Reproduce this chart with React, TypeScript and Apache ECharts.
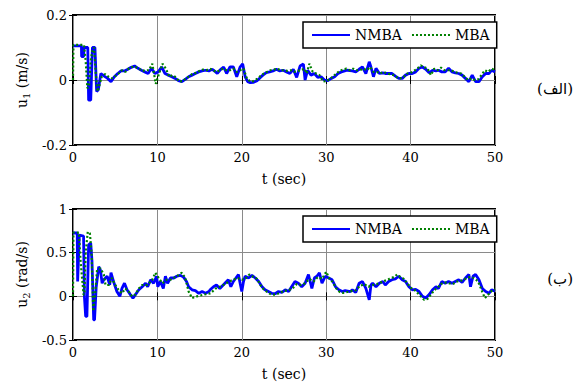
import React, { useEffect, useRef } from "react";
import * as echarts from "echarts";

// u1 (m/s) — NMBA
const T_U1_NMBA = [0, 1.0, 1.02, 1.25, 1.3, 1.75, 1.85, 2.1, 2.3, 2.6, 2.8, 3.0, 3.3, 3.7, 4.1, 4.5, 4.9, 5.3, 5.7, 6.1, 6.5, 6.9, 7.3, 7.7, 8.1, 8.5, 8.9, 9.3, 9.7, 10.1, 10.5, 10.9, 11.3, 11.7, 12.1, 12.5, 12.9, 13.3, 13.7, 14.1, 14.5, 14.9, 15.3, 15.7, 16.1, 16.5, 16.9, 17.1, 17.5, 17.85, 18.2, 18.6, 19.0, 19.4, 19.8, 20.1, 20.4, 20.7, 21.0, 21.4, 21.8, 22.2, 22.5, 22.9, 23.3, 23.7, 24.1, 24.5, 24.9, 25.3, 25.7, 26.1, 26.5, 26.9, 27.3, 27.5, 27.8, 28.2, 28.6, 29.0, 29.4, 29.8, 30.2, 30.6, 31.0, 31.4, 31.8, 32.2, 32.5, 33.1, 33.5, 33.9, 34.3, 34.7, 35.1, 35.3, 35.6, 35.9, 36.3, 36.7, 37.0, 37.4, 37.8, 38.2, 38.6, 39.0, 39.4, 39.8, 40.2, 40.6, 41.0, 41.4, 41.8, 42.2, 42.6, 43.0, 43.3, 43.7, 44.1, 44.5, 44.9, 45.3, 45.7, 46.1, 46.5, 46.9, 47.3, 47.7, 48.1, 48.5, 48.9, 49.3, 49.6, 50];
const U1_NMBA = [0.105, 0.105, 0.072, 0.072, 0.1, 0.1, -0.062, -0.062, 0.1, 0.1, -0.035, -0.03, 0.02, 0.012, 0.005, -0.005, 0.01, 0.02, 0.028, 0.028, 0.033, 0.039, 0.043, 0.036, 0.03, 0.025, 0.02, 0.036, 0.02, 0.025, 0.04, 0.02, 0.015, 0.01, 0.005, -0.002, -0.005, 0.002, 0.01, 0.015, 0.02, 0.025, 0.028, 0.03, 0.028, 0.033, 0.025, 0.02, 0.033, 0.04, 0.02, 0.04, 0.04, 0.01, 0.04, 0.05, 0.01, -0.005, -0.008, -0.007, -0.002, 0.008, 0.015, 0.023, 0.025, 0.028, 0.033, 0.028, 0.03, 0.025, 0.02, 0.033, 0.008, 0.043, 0.049, 0.0, 0.03, 0.015, 0.02, 0.008, 0.01, 0.0, -0.002, 0.005, 0.01, 0.02, 0.025, 0.028, 0.03, 0.028, 0.025, 0.033, 0.04, 0.02, 0.056, 0.04, 0.01, 0.036, 0.02, 0.022, 0.02, 0.02, 0.02, 0.012, 0.005, 0.005, 0.015, 0.02, 0.02, 0.025, 0.036, 0.04, 0.033, 0.022, 0.03, 0.028, 0.03, 0.025, 0.025, 0.036, 0.025, 0.022, 0.02, 0.015, 0.005, -0.005, 0.015, -0.005, -0.005, 0.01, 0.02, 0.02, 0.03, 0.025];

// u1 (m/s) — MBA
const T_U1_MBA = [0, 0.05, 1.3, 1.5, 1.7, 1.9, 2.1, 2.3, 2.5, 2.7, 2.9, 3.1, 3.4, 3.8, 4.2, 4.6, 5.0, 5.4, 5.8, 6.2, 6.6, 7.0, 7.4, 7.8, 8.2, 8.6, 9.0, 9.4, 9.8, 10.2, 10.6, 11.0, 11.4, 11.8, 12.2, 12.6, 13.0, 13.4, 13.8, 14.2, 14.6, 15.0, 15.4, 15.8, 16.2, 16.6, 17.0, 17.4, 17.8, 18.2, 18.6, 19.0, 19.4, 19.8, 20.2, 20.6, 21.0, 21.4, 21.8, 22.2, 22.6, 23.0, 23.4, 23.8, 24.2, 24.6, 25.0, 25.4, 25.8, 26.2, 26.6, 27.0, 27.4, 27.7, 28.0, 28.4, 28.8, 29.2, 29.6, 30.0, 30.4, 30.8, 31.2, 31.6, 32.0, 32.4, 32.8, 33.2, 33.6, 34.0, 34.4, 34.8, 35.2, 35.6, 36.0, 36.4, 36.8, 37.2, 37.6, 38.0, 38.4, 38.8, 39.2, 39.6, 40.0, 40.4, 40.8, 41.2, 41.6, 42.0, 42.4, 42.8, 43.2, 43.6, 44.0, 44.4, 44.8, 45.2, 45.6, 46.0, 46.4, 46.8, 47.2, 47.6, 48.0, 48.4, 48.8, 49.2, 49.6, 50];
const U1_MBA = [0, 0.108, 0.108, 0.06, -0.025, -0.02, 0.06, 0.09, 0.1, 0.02, -0.035, -0.02, 0.01, 0.018, 0.01, 0.005, 0.012, 0.02, 0.03, 0.025, 0.035, 0.04, 0.04, 0.035, 0.028, 0.03, 0.03, 0.05, -0.012, 0.02, 0.05, 0.035, 0.01, 0.015, 0.008, -0.005, -0.003, 0.005, 0.012, 0.02, 0.022, 0.028, 0.032, 0.03, 0.035, 0.03, 0.025, 0.03, 0.035, 0.03, 0.03, 0.035, 0.025, 0.03, 0.035, 0.005, -0.005, -0.003, 0.003, 0.012, 0.02, 0.025, 0.03, 0.032, 0.035, 0.03, 0.03, 0.028, 0.03, 0.025, 0.028, 0.03, 0.035, 0.02, 0.05, 0.025, 0.02, 0.015, -0.003, -0.005, 0.003, 0.01, 0.02, 0.028, 0.032, 0.035, 0.03, 0.035, 0.03, 0.03, 0.035, 0.03, 0.04, 0.025, 0.025, 0.02, 0.025, 0.02, 0.018, 0.015, 0.008, 0.005, 0.01, 0.02, 0.022, 0.028, 0.035, 0.045, 0.04, 0.035, 0.015, 0.035, 0.03, 0.038, 0.03, 0.03, 0.03, 0.025, 0.022, 0.02, 0.01, 0.0, 0.005, 0.0, 0.002, 0.015, 0.03, 0.025, 0.035, 0.03];

// u2 (rad/s) — NMBA
const T_U2_NMBA = [0, 0.5, 0.55, 0.75, 1.25, 1.35, 1.5, 1.65, 1.85, 2.1, 2.25, 2.45, 2.55, 2.75, 3.05, 3.25, 3.45, 3.65, 4.05, 4.35, 4.5, 4.8, 5.2, 5.55, 5.8, 6.1, 6.4, 6.8, 7.1, 7.4, 7.8, 8.2, 8.6, 8.85, 9.2, 9.55, 9.9, 10.05, 10.35, 10.7, 10.95, 11.2, 11.55, 11.95, 12.3, 12.7, 13.1, 13.45, 13.7, 14.1, 14.5, 14.9, 15.3, 15.7, 16.1, 16.25, 16.65, 17.0, 17.4, 18.0, 18.4, 18.7, 19.0, 19.3, 19.6, 19.8, 20.0, 20.2, 20.4, 20.8, 21.2, 21.6, 22.0, 22.4, 22.75, 23.15, 23.55, 23.95, 24.35, 24.75, 25.15, 25.55, 25.9, 26.3, 26.7, 27.1, 27.5, 27.9, 28.1, 28.3, 28.6, 28.9, 29.2, 29.5, 29.9, 30.3, 30.7, 31.1, 31.5, 31.9, 32.25, 32.85, 33.1, 33.5, 33.9, 34.3, 34.7, 35.1, 35.3, 35.5, 35.9, 36.3, 36.7, 37.0, 37.4, 37.8, 38.2, 38.6, 39.0, 39.4, 39.8, 40.2, 40.6, 41.0, 41.4, 41.8, 42.2, 42.6, 43.0, 43.3, 43.7, 44.1, 44.5, 44.9, 45.3, 45.7, 46.1, 46.5, 46.9, 47.1, 47.4, 47.7, 48.1, 48.5, 48.9, 49.3, 49.6, 50];
const U2_NMBA = [0.725, 0.725, 0.17, 0.7, 0.69, 0.0, -0.23, -0.23, 0.59, 0.61, 0.4, -0.27, -0.27, 0.11, 0.34, 0.3, 0.15, 0.19, 0.23, 0.13, 0.27, 0.17, 0.055, 0.0, 0.09, 0.15, 0.075, 0.02, -0.02, 0.02, 0.075, 0.11, 0.15, 0.11, 0.19, 0.15, 0.23, 0.11, 0.17, 0.09, 0.23, 0.15, 0.21, 0.21, 0.23, 0.24, 0.22, 0.17, 0.11, 0.075, 0.065, 0.035, 0.055, 0.035, 0.055, 0.075, 0.11, 0.13, 0.09, 0.15, 0.19, 0.11, 0.17, 0.21, 0.25, 0.15, 0.055, 0.17, 0.23, 0.21, 0.24, 0.21, 0.17, 0.11, 0.075, 0.055, 0.035, 0.03, 0.055, 0.045, 0.075, 0.055, 0.11, 0.17, 0.15, 0.11, 0.15, 0.25, 0.17, 0.09, 0.21, 0.23, 0.27, 0.15, 0.23, 0.21, 0.19, 0.11, 0.075, 0.055, 0.065, 0.055, 0.075, 0.045, 0.15, 0.17, 0.09, -0.04, 0.13, 0.15, 0.11, 0.15, 0.17, 0.13, 0.17, 0.19, 0.2, 0.23, 0.19, 0.17, 0.11, 0.075, 0.08, 0.055, 0.0, -0.02, 0.02, 0.075, 0.11, 0.09, 0.17, 0.15, 0.17, 0.15, 0.17, 0.19, 0.16, 0.21, 0.25, 0.11, 0.23, 0.25, 0.19, 0.09, 0.055, 0.035, 0.075, 0.06];

// u2 (rad/s) — MBA
const T_U2_MBA = [0, 0.05, 0.7, 0.9, 1.25, 1.35, 1.5, 1.75, 2.0, 2.2, 2.4, 2.6, 2.85, 3.25, 3.65, 3.85, 4.25, 4.6, 5.0, 5.4, 5.8, 6.2, 6.6, 7.0, 7.4, 7.8, 8.2, 8.8, 9.4, 9.75, 10.15, 10.6, 11.1, 11.55, 12.3, 12.9, 13.3, 13.7, 14.1, 14.7, 15.5, 16.3, 16.9, 17.4, 18.0, 18.5, 19.0, 19.5, 20.0, 20.4, 20.9, 21.4, 21.8, 22.2, 22.6, 23.0, 23.5, 24.0, 24.5, 25.0, 25.5, 26.0, 26.5, 27.0, 27.5, 28.0, 28.5, 29.0, 29.5, 30.0, 30.4, 30.8, 31.2, 31.6, 32.0, 32.5, 33.0, 33.5, 34.0, 34.5, 35.0, 35.5, 36.0, 36.5, 37.0, 37.5, 38.0, 38.4, 38.8, 39.2, 39.6, 40.0, 40.5, 41.0, 41.6, 42.0, 42.4, 42.8, 43.2, 43.6, 44.0, 44.5, 45.0, 45.5, 46.0, 46.5, 47.0, 47.5, 48.0, 48.5, 48.8, 49.2, 49.6, 50];
const U2_MBA = [0.0, 0.73, 0.73, 0.4, 0.02, 0.02, 0.5, 0.74, 0.72, 0.5, -0.17, 0.0, 0.3, 0.32, 0.25, 0.13, 0.13, 0.21, 0.13, 0.075, 0.035, 0.09, 0.055, 0.0, 0.02, 0.09, 0.13, 0.13, 0.19, 0.27, 0.21, 0.15, 0.19, 0.19, 0.23, 0.27, 0.21, 0.055, -0.02, 0.0, 0.02, 0.035, 0.09, 0.11, 0.14, 0.17, 0.19, 0.21, 0.19, 0.2, 0.25, 0.22, 0.2, 0.13, 0.08, 0.05, 0.02, 0.02, 0.04, 0.06, 0.07, 0.09, 0.14, 0.13, 0.15, 0.2, 0.17, 0.22, 0.2, 0.28, 0.2, 0.16, 0.09, 0.05, 0.04, 0.05, 0.06, 0.07, 0.12, 0.14, 0.11, 0.13, 0.14, 0.16, 0.18, 0.2, 0.22, 0.25, 0.22, 0.2, 0.15, 0.1, 0.07, 0.02, -0.04, -0.03, 0.02, 0.07, 0.1, 0.14, 0.16, 0.15, 0.14, 0.17, 0.18, 0.2, 0.22, 0.21, 0.17, 0.05, -0.02, 0.02, 0.06, 0.08];

const SERIES_NAMES = ["NMBA", "MBA"];
const PANEL_TAGS = ["(الف)", "(ب)"];
const X_NAME = "t (sec)";

const FONT = "'DejaVu Serif', 'DejaVu Sans', serif";
const BLUE = "#0000ff";
const GREEN = "#008000";

const pairs = (t: number[], v: number[]) => t.map((x, i) => [x, v[i]]);

export default function App() {
  const ref = useRef<HTMLDivElement>(null);
  useEffect(() => {
    if (!ref.current) return;
    const chart = echarts.init(ref.current, null, { renderer: "svg" });
    const gridL = 73, gridR = 89;
    const grids = [
      { left: gridL, right: gridR, top: 15, height: 130 },
      { left: gridL, right: gridR, top: 209, height: 131 },
    ];
    const tickStyle = { show: true, inside: true, length: 4, lineStyle: { color: "#000", width: 1 } };
    const labelStyle = { fontFamily: FONT, fontSize: 13, color: "#000" };
    const split = { show: true, lineStyle: { color: "#8a8a8a", width: 1 } };
    const yRanges = [
      { min: -0.2, max: 0.2, interval: 0.2 },
      { min: -0.5, max: 1, interval: 0.5 },
    ];
    const yNames = [
      "{a|u}{s|1}{a| (m/s)}",
      "{a|u}{s|2}{a| (rad/s)}",
    ];
    const xAxis: any[] = [];
    const yAxis: any[] = [];
    [0, 1].forEach((g) => {
      xAxis.push({
        type: "value", gridIndex: g, position: "bottom", min: 0, max: 50, interval: 10,
        axisLine: { show: false }, axisTick: tickStyle,
        axisLabel: { ...labelStyle, margin: 6 }, splitLine: split,
        name: X_NAME, nameLocation: "middle", nameGap: 27,
        nameTextStyle: { fontFamily: FONT, fontSize: 14, color: "#000" },
      });
      xAxis.push({
        type: "value", gridIndex: g, position: "top", min: 0, max: 50, interval: 10,
        axisLine: { show: false }, axisTick: tickStyle, axisLabel: { show: false }, splitLine: { show: false },
      });
      yAxis.push({
        type: "value", gridIndex: g, position: "left", ...yRanges[g],
        axisLine: { show: false }, axisTick: tickStyle,
        axisLabel: { ...labelStyle, margin: 6 }, splitLine: split,
        name: yNames[g], nameLocation: "middle", nameGap: 40,
        nameTextStyle: {
          rich: {
            a: { fontFamily: FONT, fontSize: 14, color: "#000", lineHeight: 18 },
            s: { fontFamily: FONT, fontSize: 10, color: "#000", lineHeight: 18, padding: [8, 0, 0, 0] },
          },
        },
      });
      yAxis.push({
        type: "value", gridIndex: g, position: "right", ...yRanges[g],
        axisLine: { show: false }, axisTick: tickStyle, axisLabel: { show: false }, splitLine: { show: false },
      });
    });
    const mkSeries = (name: string, data: number[][], g: number, blue: boolean) => ({
      type: "line", name, data, xAxisIndex: g * 2, yAxisIndex: g * 2,
      symbol: "none", showSymbol: false,
      lineStyle: blue ? { color: BLUE, width: 2.8 } : { color: GREEN, width: 2.2, type: [2, 2.2] },
      itemStyle: { color: blue ? BLUE : GREEN },
      z: blue ? 2 : 3,
    });
    const legendTops = [22, 216];
    const option: any = {
      animation: false,
      backgroundColor: "#fff",
      grid: grids.map((g) => ({ ...g, show: true, borderColor: "#000", borderWidth: 2, backgroundColor: "transparent" })),
      xAxis, yAxis,
      legend: legendTops.map((top) => ({
        left: 303, top, orient: "horizontal",
        data: [
          { name: SERIES_NAMES[0], itemStyle: { opacity: 0 }, lineStyle: { width: 2, color: BLUE, type: "solid" } },
          { name: SERIES_NAMES[1], itemStyle: { opacity: 0 }, lineStyle: { width: 2, color: GREEN, type: [2, 2] } },
        ],
        itemWidth: 38, itemHeight: 14, itemGap: 9,
        padding: [6, 7, 6, 8],
        borderColor: "#000", borderWidth: 1.5, backgroundColor: "#fff",
        textStyle: { fontFamily: FONT, fontSize: 14, color: "#000" },
        selectedMode: false,
        z: 10,
      })),
      series: [
        mkSeries(SERIES_NAMES[0], pairs(T_U1_NMBA, U1_NMBA), 0, true),
        mkSeries(SERIES_NAMES[1], pairs(T_U1_MBA, U1_MBA), 0, false),
        mkSeries(SERIES_NAMES[0], pairs(T_U2_NMBA, U2_NMBA), 1, true),
        mkSeries(SERIES_NAMES[1], pairs(T_U2_MBA, U2_MBA), 1, false),
      ],
      graphic: [
        { type: "text", x: 573, y: 89, style: { text: PANEL_TAGS[0], font: `15px ${FONT}`, fill: "#000", textAlign: "right", textVerticalAlign: "middle" } },
        { type: "text", x: 573, y: 279, style: { text: PANEL_TAGS[1], font: `15px ${FONT}`, fill: "#000", textAlign: "right", textVerticalAlign: "middle" } },
      ],
    };
    chart.setOption(option);
    return () => chart.dispose();
  }, []);
  return (
    <div
      ref={ref}
      style={{ position: "fixed", left: 0, top: 0, width: 584, height: 382, background: "#fff" }}
    />
  );
}
